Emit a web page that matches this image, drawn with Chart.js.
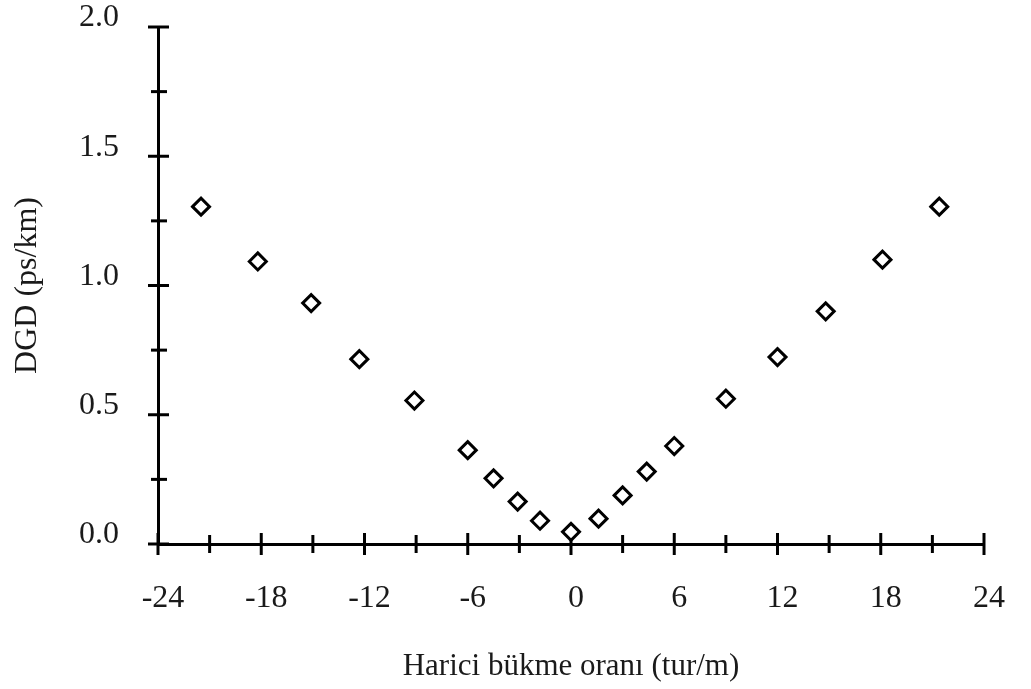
<!DOCTYPE html>
<html>
<head>
<meta charset="utf-8">
<script src="https://cdn.jsdelivr.net/npm/chart.js@4/dist/chart.umd.min.js"></script>
<style>
  html, body { margin: 0; padding: 0; background: #ffffff; }
  #wrap { width: 1031px; height: 689px; }
</style>
</head>
<body>
<div id="wrap"><canvas id="c" width="1031" height="689"></canvas></div>
<script>
// Harici bükme oranı (tur/m)
const twistRate = [-21.5, -18.2, -15.1, -12.3, -9.1, -6.0, -4.5, -3.1, -1.8, 0.0, 1.6, 3.0, 4.4, 6.0, 9.0, 12.0, 14.8, 18.1, 21.4];
// DGD (ps/km)
const dgd = [1.305, 1.093, 0.932, 0.715, 0.555, 0.363, 0.254, 0.164, 0.09, 0.047, 0.098, 0.188, 0.28, 0.379, 0.562, 0.723, 0.90, 1.10, 1.305];

const xTickValues = [-24, -18, -12, -6, 0, 6, 12, 18, 24];
const xTickLabels = ['-24', '-18', '-12', '-6', '0', '6', '12', '18', '24'];
const yTickValues = [0, 0.5, 1.0, 1.5, 2.0];
const yTickLabels = ['0.0', '0.5', '1.0', '1.5', '2.0'];

const xTitle = 'Harici bükme oranı (tur/m)';
const yTitle = 'DGD (ps/km)';

function labelFor(values, labels, v) {
  const i = values.findIndex(t => Math.abs(t - v) < 1e-9);
  return i >= 0 ? labels[i] : '';
}

const axisTicks = {
  id: 'axisTicks',
  beforeDatasetsDraw(chart) {
    const { ctx, chartArea, scales } = chart;
    const xs = scales.x, ys = scales.y;
    ctx.save();
    ctx.strokeStyle = '#000';
    ctx.lineWidth = 3;
    ctx.lineCap = 'butt';
    xs.ticks.forEach(t => {
      const px = xs.getPixelForValue(t.value);
      const major = xTickValues.some(v => Math.abs(v - t.value) < 1e-9);
      const l = major ? 11 : 9;
      ctx.beginPath();
      ctx.moveTo(px, chartArea.bottom - l);
      ctx.lineTo(px, chartArea.bottom + l);
      ctx.stroke();
    });
    ys.ticks.forEach(t => {
      const py = ys.getPixelForValue(t.value);
      const major = yTickValues.some(v => Math.abs(v - t.value) < 1e-9);
      const l1 = major ? 10 : 7, l2 = major ? 11 : 9;
      ctx.beginPath();
      ctx.moveTo(chartArea.left - l1, py);
      ctx.lineTo(chartArea.left + l2, py);
      ctx.stroke();
    });
    ctx.restore();
  }
};

const fontFamily = "'Liberation Serif', 'Times New Roman', serif";

new Chart(document.getElementById('c'), {
  type: 'scatter',
  data: {
    datasets: [{
      data: twistRate.map((x, i) => ({ x: x, y: dgd[i] })),
      pointStyle: 'rectRot',
      pointRadius: 8.5,
      pointHoverRadius: 8.5,
      borderWidth: 3,
      borderColor: '#000',
      backgroundColor: '#fff'
    }]
  },
  options: {
    responsive: false,
    animation: false,
    events: [],
    layout: { padding: { top: 27, right: 47, left: 0, bottom: 0 } },
    plugins: {
      legend: { display: false },
      tooltip: { enabled: false }
    },
    scales: {
      x: {
        type: 'linear',
        min: -24,
        max: 24,
        afterFit(scale) {
          scale.height = 145;
          scale.paddingLeft = 0;
          scale.paddingRight = 0;
        },
        grid: { display: false, drawTicks: false },
        border: { display: true, color: '#000', width: 3 },
        ticks: {
          stepSize: 3,
          autoSkip: false,
          maxRotation: 0,
          padding: 35,
          labelOffset: 5,
          color: '#1a1a1a',
          font: { family: fontFamily, size: 32 },
          callback: v => labelFor(xTickValues, xTickLabels, v)
        },
        title: {
          display: true,
          text: xTitle,
          color: '#1a1a1a',
          font: { family: fontFamily, size: 31 },
          padding: { top: 0, bottom: 4 }
        }
      },
      y: {
        type: 'linear',
        min: 0,
        max: 2,
        afterFit(scale) {
          scale.width = 158;
          scale.paddingTop = 0;
          scale.paddingBottom = 0;
        },
        grid: { display: false, drawTicks: false },
        border: { display: true, color: '#000', width: 3 },
        ticks: {
          stepSize: 0.25,
          autoSkip: false,
          padding: 39,
          labelOffset: -9,
          color: '#1a1a1a',
          font: { family: fontFamily, size: 32 },
          callback: v => labelFor(yTickValues, yTickLabels, v)
        },
        title: {
          display: true,
          text: yTitle,
          color: '#1a1a1a',
          font: { family: fontFamily, size: 32 },
          padding: { top: 8, bottom: 0 }
        }
      }
    }
  },
  plugins: [axisTicks]
});
</script>
</body>
</html>
